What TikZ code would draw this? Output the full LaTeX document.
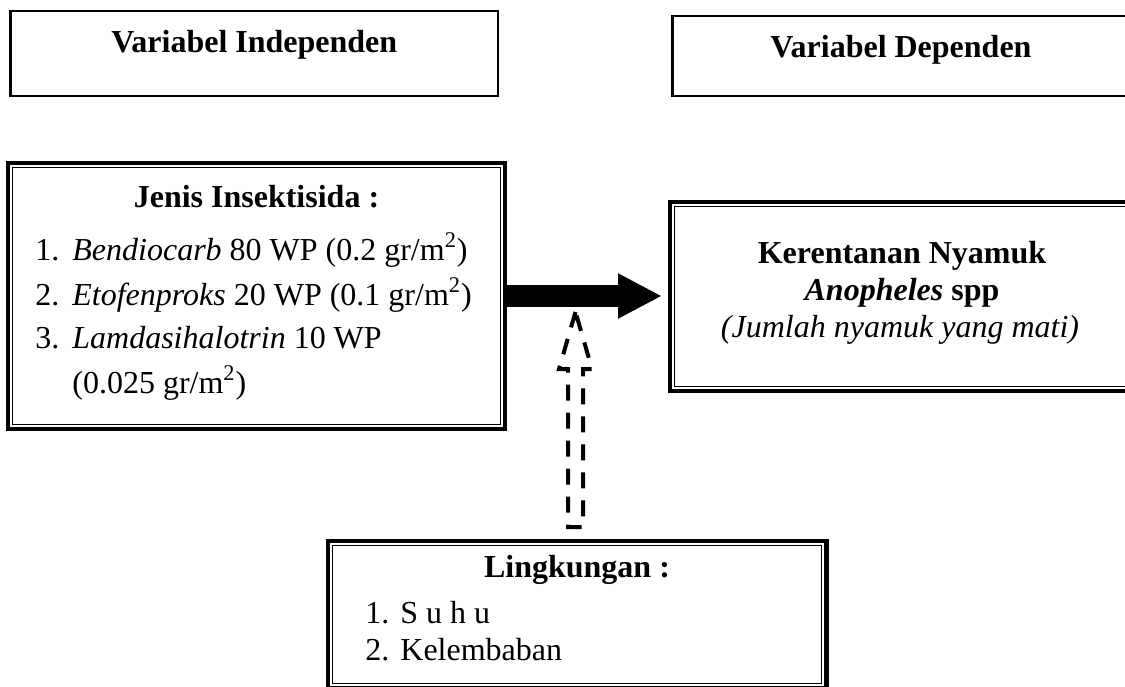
\documentclass[tikz,border=0pt]{standalone}
\usepackage{fontspec}
\setmainfont{Liberation Serif}
\usetikzlibrary{arrows.meta,calc}

\begin{document}
\begin{tikzpicture}[x=0.5pt,y=-0.5pt,font=\fontsize{16pt}{20pt}\selectfont]
    \tikzstyle{varbox}=[draw, line width=1.1pt, outer sep=0pt, inner sep=0pt]
    \tikzstyle{frame}=[draw, line width=2.25pt, outer sep=0pt, inner sep=0pt]
    \tikzstyle{innerline}=[line width=0.6pt]
    \tikzstyle{txt}=[inner sep=0pt, anchor=base]
    \tikzstyle{item}=[inner sep=0pt, anchor=base west]
    \tikzstyle{bigarrow}=[line width=11pt, -{Triangle[width=21pt,length=22pt]}]
    \tikzstyle{hollow}=[line width=2pt, dash pattern=on 8pt off 6pt]

    \useasboundingbox (0,0) rectangle (1125,686);
    \clip (0,0) rectangle (1125,686);

    \node[varbox, minimum width=243.75pt, minimum height=42.5pt] (indep) at (254.25,53.5) {};
    \node[varbox, minimum width=228.75pt, minimum height=39.85pt] (dep) at (901.25,56.15) {};
    \node[frame, minimum width=248.5pt, minimum height=133pt] (jenis) at (256.5,296) {};
    \node[frame, minimum width=232pt, minimum height=94.5pt] (kerentanan) at (902,296.5) {};
    \node[frame, minimum width=249.25pt, minimum height=73.75pt] (lingkungan) at (577,614.75) {};

    \foreach \n in {jenis,kerentanan,lingkungan}
      \draw[innerline] ([shift={(4.7,4.7)}]\n.north west) rectangle ([shift={(-4.7,-4.7)}]\n.south east);

    \node[txt] (indeplbl) at (254.25,52) {\textbf{Variabel Independen}};
    \node[txt] (deplbl) at (901,57) {\textbf{Variabel Dependen}};

    \node[txt] (jhead) at (256.5,207) {\textbf{Jenis Insektisida :}};
    \node[item] (jn1) at (35,260) {1.};
    \node[item] (jt1) at (72,260) {\textit{Bendiocarb} 80 WP (0.2 gr/m\textsuperscript{2})};
    \node[item] (jn2) at (35,305) {2.};
    \node[item] (jt2) at (72,305) {\textit{Etofenproks} 20 WP (0.1 gr/m\textsuperscript{2})};
    \node[item] (jn3) at (35,348) {3.};
    \node[item] (jt3) at (72,348) {\textit{Lamdasihalotrin} 10 WP};
    \node[item] (jt4) at (72,393) {(0.025 gr/m\textsuperscript{2})};

    \node[txt] (khead) at (902,263) {\textbf{Kerentanan Nyamuk}};
    \node[txt] (kspp) at (902,300) {\textbf{\textit{Anopheles} spp}};
    \node[txt] (knote) at (900,337) {\textit{(Jumlah nyamuk yang mati)}};

    \node[txt] (lhead) at (577,577) {\textbf{Lingkungan :}};
    \node[item] (ln1) at (365,623) {1.};
    \node[item] (lt1) at (400,623) {S u h u};
    \node[item] (ln2) at (365,660) {2.};
    \node[item] (lt2) at (400,660) {Kelembaban};

    \draw[bigarrow, shorten >=4pt] (jenis.east) -- (jenis.east -| kerentanan.west);

    \coordinate (dtail) at ($(lingkungan.north)+(-1.5,-14)$);
    \coordinate (dtip) at ($(dtail |- jenis.east)+(0,16)$);
    \draw[hollow] (dtip) -- ++(-16.5,57) -- ++(9,0) -- ($(dtail)+(-7.5,0)$)
      -- ($(dtail)+(7.5,0)$) -- ($(dtip)+(7.5,57)$) -- ++(9,0) -- cycle;
\end{tikzpicture}
\end{document}
